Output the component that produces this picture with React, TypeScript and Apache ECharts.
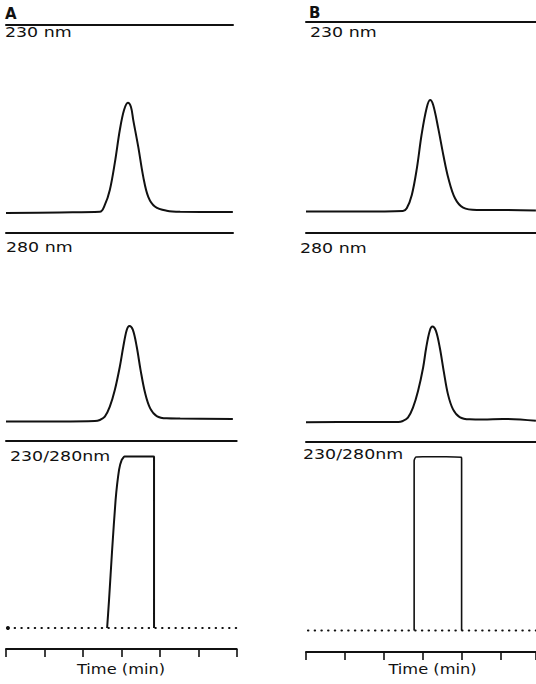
import React, { useEffect, useRef } from "react";
import * as echarts from "echarts";

// ---- Data (time in min-ticks, signal in arbitrary units) ----
const tA230 = [0, 1.4, 2.44, 2.57, 2.7, 2.83, 2.96, 3.07, 3.17, 3.25, 3.31, 3.44, 3.57, 3.7, 3.88, 4.18, 4.53, 5.9];
const vA230 = [0.96, 0.99, 1.02, 1.35, 2.07, 3.37, 4.95, 5.91, 6.26, 6.06, 5.43, 4.14, 2.7, 1.74, 1.26, 1.07, 1.02, 1.01];

const tA280 = [0, 1.4, 2.31, 2.44, 2.57, 2.7, 2.83, 2.96, 3.05, 3.14, 3.21, 3.3, 3.4, 3.5, 3.62, 3.75, 3.92, 4.18, 4.53, 5.9];
const vA280 = [0.94, 0.94, 0.96, 1.01, 1.17, 1.65, 2.45, 3.57, 4.53, 5.34, 5.53, 5.34, 4.53, 3.41, 2.29, 1.57, 1.2, 1.09, 1.08, 1.06];

const tARatio = [2.63, 2.68, 2.76, 2.85, 2.94, 3.01, 3.08, 3.83, 3.85, 3.85];
const vARatio = [1.01, 2.36, 4.76, 7.16, 8.61, 9.09, 9.25, 9.25, 9.23, 1.01];
const tABase = [0.05, 6.0];
const vABase = [1.01, 1.01];

const tB230 = [0, 1.39, 2.49, 2.59, 2.72, 2.85, 2.97, 3.1, 3.19, 3.27, 3.4, 3.53, 3.66, 3.83, 4.04, 4.39, 4.73, 5.91];
const vB230 = [1.03, 1.03, 1.06, 1.19, 1.83, 3.11, 4.71, 6.0, 6.39, 6.15, 5.03, 3.75, 2.63, 1.67, 1.22, 1.11, 1.11, 1.08];

const tB280 = [0, 1.39, 2.37, 2.49, 2.62, 2.75, 2.88, 3.01, 3.09, 3.18, 3.25, 3.34, 3.44, 3.54, 3.65, 3.78, 3.95, 4.21, 4.55, 5.06, 5.91];
const vB280 = [0.95, 0.96, 0.96, 1.01, 1.17, 1.65, 2.45, 3.57, 4.53, 5.34, 5.55, 5.34, 4.53, 3.41, 2.29, 1.57, 1.2, 1.09, 1.08, 1.11, 1.02];

const tBRatio = [2.78, 2.78, 2.82, 3.0, 3.6, 3.99, 4.0, 4.0];
const vBRatio = [1.03, 9.2, 9.37, 9.39, 9.39, 9.36, 9.3, 1.03];
const tBBase = [0.05, 5.91];
const vBBase = [1.03, 1.03];

const panelLabels = ["A", "B"];
const traceLabels = ["230 nm", "280 nm", "230/280nm"];
const axisTitle = "Time (min)";

const zip = (t: number[], v: number[]) => t.map((x, i) => [x, v[i]]);

const FONT = "DejaVu Sans";
const INK = "#111";

export default function App() {
  const ref = useRef<HTMLDivElement>(null);
  useEffect(() => {
    if (!ref.current) return;
    const chart = echarts.init(ref.current, null, { renderer: "svg" });

    const pxT = [38.45, 38.9];
    const pxV = 20.8;
    const panels = [
      { left: 6, traceRight: 233, axisRight: 236.7, tops: [25, 233, 441], bottoms: [233, 441, 649] },
      { left: 306, traceRight: 536, axisRight: 536, tops: [22, 233, 442], bottoms: [233, 442, 652] },
    ];
    const traces = [
      [zip(tA230, vA230), zip(tA280, vA280), zip(tARatio, vARatio)],
      [zip(tB230, vB230), zip(tB280, vB280), zip(tBRatio, vBRatio)],
    ];
    const baselines = [zip(tABase, vABase), zip(tBBase, vBBase)];

    const grid: any[] = [];
    const xAxis: any[] = [];
    const yAxis: any[] = [];
    const series: any[] = [];

    panels.forEach((p, pi) => {
      for (let k = 0; k < 3; k++) {
        const gi = grid.length;
        const right = k === 2 ? p.axisRight : p.traceRight;
        const w = right - p.left;
        const h = p.bottoms[k] - p.tops[k];
        const xmax = w / pxT[pi];
        grid.push({ left: p.left, top: p.tops[k], width: w, height: h, containLabel: false, outerBoundsMode: "none" });
        const topAxisIdx = xAxis.length;
        xAxis.push({
          type: "value", gridIndex: gi, position: "top", min: 0, max: xmax,
          axisLine: { show: true, onZero: false, lineStyle: { color: INK, width: 2 } },
          axisTick: { show: false }, axisLabel: { show: false }, splitLine: { show: false },
        });
        let seriesX = topAxisIdx;
        if (k === 2) {
          seriesX = xAxis.length;
          xAxis.push({
            type: "value", gridIndex: gi, position: "bottom", min: 0, max: xmax, interval: 1,
            axisLine: { show: true, onZero: false, lineStyle: { color: INK, width: 2 } },
            axisTick: { show: true, length: 8, lineStyle: { color: INK, width: 1.6 } },
            axisLabel: { show: false }, splitLine: { show: false },
          });
        }
        yAxis.push({ type: "value", gridIndex: gi, min: 0, max: h / pxV, show: false });
        series.push({
          type: "line", xAxisIndex: seriesX, yAxisIndex: gi, data: traces[pi][k],
          smooth: k === 2 ? 0.15 : 0.35, symbol: "none", clip: false,
          lineStyle: { color: INK, width: pi === 1 && k === 2 ? 1.6 : 2 },
        });
        if (k === 2) {
          const base: any[] = baselines[pi].map((d) => d);
          if (pi === 0) base[0] = { value: base[0], symbol: "circle", symbolSize: 4 };
          series.push({
            type: "line", xAxisIndex: seriesX, yAxisIndex: gi, data: base,
            symbol: "none", showSymbol: true, clip: false,
            itemStyle: { color: INK },
            lineStyle: { color: INK, width: 2, type: [0.5, 6.2], cap: "round" },
          });
        }
      }
    });

    const txt = (x: number, y: number, s: string, opts: any = {}) => ({
      type: "text", x, y, scaleX: opts.sx || 1, scaleY: 1,
      style: {
        text: s, fill: INK,
        font: `${opts.bold ? "bold " : ""}${opts.size || 14.5}px "${FONT}"`,
        textAlign: opts.align || "left", textVerticalAlign: "top",
      },
    });
    const SX = 1.2;
    const graphic = [
      txt(5, 6, panelLabels[0], { bold: true, size: 15 }),
      txt(309, 5, panelLabels[1], { bold: true, size: 15 }),
      txt(5, 25, traceLabels[0], { sx: SX }),
      txt(310, 25, traceLabels[0], { sx: SX }),
      txt(6, 240, traceLabels[1], { sx: SX }),
      txt(300, 241, traceLabels[1], { sx: SX }),
      txt(10, 449, traceLabels[2], { sx: SX }),
      txt(303, 447, traceLabels[2], { sx: SX }),
      txt(121, 662, axisTitle, { sx: 1.12, align: "center" }),
      txt(432.5, 662, axisTitle, { sx: 1.12, align: "center" }),
    ];

    chart.setOption({
      animation: false,
      backgroundColor: "#fff",
      grid, xAxis, yAxis, series, graphic,
    });
    return () => chart.dispose();
  }, []);
  return <div ref={ref} style={{ position: "fixed", left: 0, top: 0, width: 536, height: 684 }} />;
}
